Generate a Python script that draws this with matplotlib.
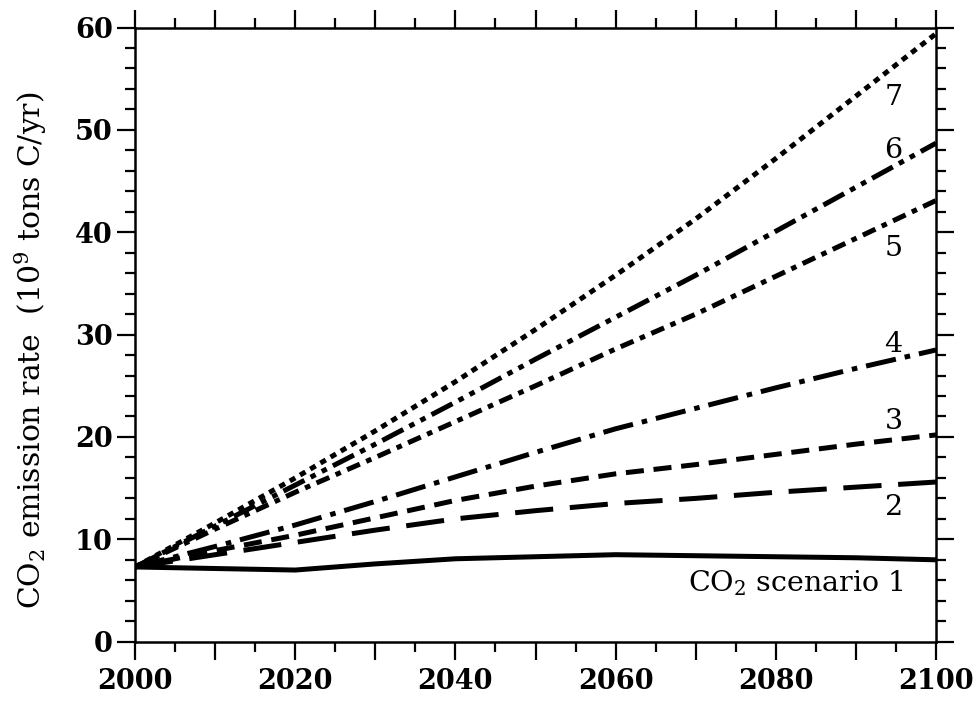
import matplotlib
matplotlib.use("Agg")
import matplotlib.pyplot as plt
from matplotlib.ticker import MultipleLocator, FuncFormatter

plt.rcParams['font.family'] = ['DejaVu Serif']
plt.rcParams['mathtext.fontset'] = 'dejavuserif'
plt.rcParams['lines.scale_dashes'] = False

years = [2000, 2010, 2020, 2030, 2040, 2050, 2060, 2070, 2080, 2090, 2100]

# emission rates (10^9 tons C/yr) for the seven scenarios
scen1 = [7.3, 7.15, 7.0, 7.6, 8.1, 8.3, 8.5, 8.4, 8.3, 8.2, 8.0]
scen2 = [7.3, 8.5, 9.7, 10.9, 12.0, 12.8, 13.5, 14.0, 14.6, 15.1, 15.6]
scen3 = [7.3, 8.9, 10.4, 12.1, 13.8, 15.2, 16.4, 17.3, 18.3, 19.3, 20.2]
scen4 = [7.3, 9.3, 11.4, 13.7, 16.1, 18.5, 20.8, 22.8, 24.8, 26.7, 28.5]
scen5 = [7.3, 11.0, 14.6, 18.0, 21.5, 25.0, 28.6, 32.0, 35.7, 39.4, 43.1]
scen6 = [7.3, 11.3, 15.3, 19.3, 23.4, 27.6, 31.7, 35.8, 40.1, 44.4, 48.7]
scen7 = [7.3, 11.6, 16.0, 20.6, 25.4, 30.5, 35.8, 41.3, 47.2, 53.3, 59.4]

fig = plt.figure(figsize=(9.75, 7.02), dpi=100)
ax = fig.add_axes([0.1385, 0.0859, 0.8215, 0.8749])

lw = 3.6
ax.plot(years, scen1, color='black', lw=lw, solid_capstyle='butt')
ax.plot(years, scen2, color='black', lw=lw, dashes=(27.5, 12))
ax.plot(years, scen3, color='black', lw=lw, dashes=(13, 7))
ax.plot(years, scen4, color='black', lw=lw, dashes=(22, 6.5, 4, 6.5))
ax.plot(years, scen5, color='black', lw=lw, dashes=(10, 5, 4, 5))
ax.plot(years, scen6, color='black', lw=lw, dashes=(17, 5, 4, 5, 4, 5))
ax.plot(years, scen7, color='black', lw=lw, dashes=(4.5, 4))

ax.set_xlim(2000, 2100)
ax.set_ylim(0, 60)

ax.xaxis.set_major_locator(MultipleLocator(10))
ax.xaxis.set_minor_locator(MultipleLocator(5))
ax.xaxis.set_major_formatter(FuncFormatter(lambda v, p: '%d' % v if int(round(v)) % 20 == 0 else ''))
ax.yaxis.set_major_locator(MultipleLocator(10))
ax.yaxis.set_minor_locator(MultipleLocator(2))

ax.tick_params(which='both', direction='out', top=True, right=True, width=1.6, color='black')
ax.tick_params(which='major', length=13)
ax.tick_params(which='minor', length=7)
ax.tick_params(axis='x', pad=6)
ax.tick_params(axis='y', pad=3)
for lab in ax.get_xticklabels() + ax.get_yticklabels():
    lab.set_fontweight('bold')
    lab.set_fontsize(19.5)

for s in ax.spines.values():
    s.set_linewidth(1.8)

ax.set_ylabel(r'CO$_2$ emission rate  (10$^9$ tons C/yr)', fontsize=21.5, labelpad=19)
ax.yaxis.label.set_y(0.475)

fs = 20.5
ax.text(2094.7, 53.2, '7', fontsize=fs, ha='center', va='center')
ax.text(2094.7, 48.0, '6', fontsize=fs, ha='center', va='center')
ax.text(2094.7, 38.4, '5', fontsize=fs, ha='center', va='center')
ax.text(2094.7, 29.0, '4', fontsize=fs, ha='center', va='center')
ax.text(2094.7, 21.5, '3', fontsize=fs, ha='center', va='center')
ax.text(2094.7, 13.1, '2', fontsize=fs, ha='center', va='center')
ax.text(2096.0, 5.7, r'CO$_2$ scenario 1', fontsize=fs, ha='right', va='center')

fig.savefig('out.png', dpi=100)
